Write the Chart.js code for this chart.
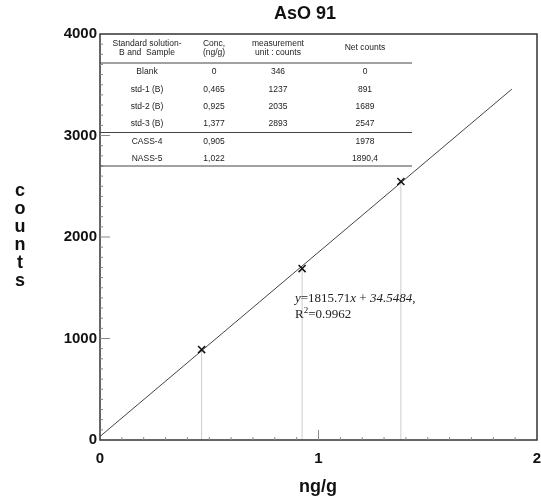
<!DOCTYPE html>
<html>
<head>
<meta charset="utf-8">
<script src="https://cdn.jsdelivr.net/npm/chart.js@4.4.1/dist/chart.umd.min.js"></script>
<style>
  html, body { margin: 0; padding: 0; background: #fff; }
  #wrap { width: 541px; height: 501px; }
</style>
</head>
<body>
<div id="wrap"><canvas id="graf" width="541" height="501"></canvas></div>
<script>
// datos
const etiquetas = ['Blank', 'std-1 (B)', 'std-2 (B)', 'std-3 (B)', 'CASS-4', 'NASS-5'];
const conc = ['0', '0,465', '0,925', '1,377', '0,905', '1,022'];
const medidas = ['346', '1237', '2035', '2893', '', ''];
const netas = ['0', '891', '1689', '2547', '1978', '1890,4'];

const estX = [0.465, 0.925, 1.377];
const estY = [891, 1689, 2547];

const rectaX = [0, 1.885];
const rectaY = [35, 3457];

const ticksX = [0, 1, 2];
const ticksY = [0, 1000, 2000, 3000, 4000];

const fuente = "'Liberation Sans', Arial, sans-serif";
const serif = "'Liberation Serif', 'Times New Roman', serif";

const puntos = estX.map((x, i) => ({ x: x, y: estY[i] }));
const recta = rectaX.map((x, i) => ({ x: x, y: rectaY[i] }));

// lineas verticales hasta el eje
const caidas = estX.map((x, i) => ({
    type: 'line',
    data: [{ x: x, y: 0 }, { x: x, y: estY[i] }],
    borderColor: '#cccccc',
    borderWidth: 1,
    pointRadius: 0,
    order: 3
}));

const extras = {
    id: 'extras',
    afterDraw(chart) {
        const ctx = chart.ctx;
        const a = chart.chartArea;
        const sx = chart.scales.x;
        const sy = chart.scales.y;
        ctx.save();

        // marco
        ctx.strokeStyle = '#333';
        ctx.lineWidth = 1.5;
        ctx.strokeRect(a.left, a.top, a.right - a.left, a.bottom - a.top);

        // marcas menores y mayores
        ctx.lineWidth = 1;
        ctx.strokeStyle = '#888';
        for (let i = 1; i < 20; i++) {
            const px = sx.getPixelForValue(i * 0.1);
            const largo = (i % 10 === 0) ? 10 : 3;
            ctx.beginPath();
            ctx.moveTo(px, a.bottom);
            ctx.lineTo(px, a.bottom - largo);
            ctx.stroke();
        }
        for (let i = 1; i < 40; i++) {
            const py = sy.getPixelForValue(i * 100);
            const largo = (i % 10 === 0) ? 10 : 3;
            ctx.beginPath();
            ctx.moveTo(a.left, py);
            ctx.lineTo(a.left + largo, py);
            ctx.stroke();
        }

        // tabla
        const cols = [147, 214, 278, 365];
        ctx.fillStyle = '#222';
        ctx.font = '8.5px ' + fuente;
        ctx.textAlign = 'center';
        ctx.textBaseline = 'middle';
        ctx.fillText('Standard solution-', cols[0], 44);
        ctx.fillText('B and  Sample', cols[0], 53);
        ctx.fillText('Conc,', cols[1], 44);
        ctx.fillText('(ng/g)', cols[1], 53);
        ctx.fillText('measurement', cols[2], 44);
        ctx.fillText('unit : counts', cols[2], 53);
        ctx.fillText('Net counts', cols[3], 48);
        const filasY = [72, 90, 107, 124, 142, 159];
        etiquetas.forEach((t, i) => {
            ctx.fillText(t, cols[0], filasY[i]);
            ctx.fillText(conc[i], cols[1], filasY[i]);
            ctx.fillText(medidas[i], cols[2], filasY[i]);
            ctx.fillText(netas[i], cols[3], filasY[i]);
        });
        ctx.strokeStyle = '#444';
        ctx.lineWidth = 1;
        [63, 132.5, 166].forEach(y => {
            ctx.beginPath();
            ctx.moveTo(a.left, y);
            ctx.lineTo(412, y);
            ctx.stroke();
        });

        // ecuacion
        ctx.fillStyle = '#222';
        ctx.textAlign = 'left';
        ctx.textBaseline = 'alphabetic';
        let px = 295;
        const partes = [['y', true], ['=1815.71', false], ['x', true], [' + ', false], ['34.5484', true], [',', false]];
        partes.forEach(p => {
            ctx.font = (p[1] ? 'italic ' : '') + '13px ' + serif;
            ctx.fillText(p[0], px, 302);
            px += ctx.measureText(p[0]).width;
        });
        ctx.font = '13px ' + serif;
        ctx.fillText('R', 295, 318);
        let rx = 295 + ctx.measureText('R').width;
        ctx.font = '9px ' + serif;
        ctx.fillText('2', rx, 313);
        rx += ctx.measureText('2').width;
        ctx.font = '13px ' + serif;
        ctx.fillText('=0.9962', rx, 318);

        // titulos
        ctx.fillStyle = '#111';
        ctx.font = 'bold 18px ' + fuente;
        ctx.textAlign = 'center';
        ctx.textBaseline = 'middle';
        ctx.fillText('AsO 91', 305, 14);
        ctx.fillText('ng/g', 318, 487);
        const letras = ['c', 'o', 'u', 'n', 't', 's'];
        letras.forEach((l, i) => ctx.fillText(l, 20, 191 + i * 18));

        ctx.restore();
    }
};

const ctx = document.getElementById('graf').getContext('2d');
const grafica = new Chart(ctx, {
    type: 'scatter',
    data: {
        datasets: [
            {
                label: 'estandares',
                data: puntos,
                pointStyle: 'crossRot',
                pointRadius: 5,
                borderColor: '#111',
                borderWidth: 1.5,
                order: 1
            },
            {
                type: 'line',
                label: 'ajuste',
                data: recta,
                borderColor: '#444',
                borderWidth: 1,
                pointRadius: 0,
                order: 2
            },
            ...caidas
        ]
    },
    options: {
        responsive: false,
        animation: false,
        devicePixelRatio: 1,
        layout: { autoPadding: false, padding: { top: 34, right: 4, left: 0, bottom: 0 } },
        plugins: {
            legend: { display: false },
            tooltip: { enabled: false }
        },
        scales: {
            x: {
                type: 'linear',
                min: 0,
                max: 2,
                afterBuildTicks: s => { s.ticks = ticksX.map(v => ({ value: v })); },
                afterFit: s => { s.height = 61; s.paddingLeft = 0; s.paddingRight = 0; },
                grid: { display: false, drawTicks: false, tickLength: 0 },
                border: { display: false },
                ticks: {
                    color: '#111',
                    padding: 10,
                    maxRotation: 0,
                    callback: v => String(v),
                    font: { family: fuente, size: 15, weight: 'bold' }
                }
            },
            y: {
                min: 0,
                max: 4000,
                afterBuildTicks: s => { s.ticks = ticksY.map(v => ({ value: v })); },
                afterFit: s => { s.width = 100; s.paddingTop = 0; s.paddingBottom = 0; },
                grid: { display: false, drawTicks: false, tickLength: 0 },
                border: { display: false },
                ticks: {
                    color: '#111',
                    padding: 3,
                    callback: v => String(v),
                    font: { family: fuente, size: 15, weight: 'bold' }
                }
            }
        }
    },
    plugins: [extras]
});
</script>
</body>
</html>
